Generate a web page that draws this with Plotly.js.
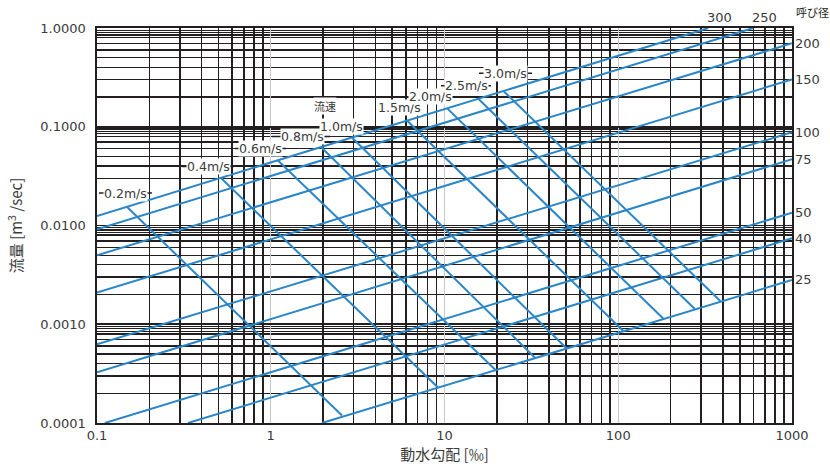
<!DOCTYPE html>
<html><head><meta charset="utf-8">
<script src="https://cdn.plot.ly/plotly-3.0.1.min.js"></script>
<style>html,body{margin:0;padding:0;background:#fff}#chart{width:830px;height:468px}</style>
</head><body><div id="chart"></div>
<script>
// Pipe (nominal diameter) lines: visible start / end points
const pipeNames  = ['300','250','200','150','100','75','50','40','25'];
const pipeStartX = [0.1, 0.1, 0.1, 0.1, 0.1, 0.1, 0.111, 0.334, 1.97];
const pipeStartQ = [0.0125, 0.00915, 0.00499, 0.00209, 0.000626, 0.000326, 0.0001, 0.0001, 0.0001];
const pipeEndX   = [330, 598, 1000, 1000, 1000, 1000, 1000, 1000, 1000];
const pipeEndQ   = [1.0, 1.0, 0.70, 0.302, 0.0879, 0.0468, 0.01349, 0.00742, 0.00281];

// Velocity lines: from the 300 line down to the 25 line
const velNames  = ['0.2m/s','0.4m/s','0.6m/s','0.8m/s','1.0m/s','1.5m/s','2.0m/s','2.5m/s','3.0m/s'];
const velStartX = [0.149, 0.517, 1.10, 1.96, 2.95, 6.12, 10.4, 15.7, 22.0];
const velStartQ = [0.01539, 0.0303, 0.0455, 0.0617, 0.0769, 0.1143, 0.1527, 0.191, 0.2275];
const velEndX   = [2.57, 9.24, 19.8, 33.4, 50.5, 107, 182, 276, 388];
const velEndQ   = [0.000119, 0.000226, 0.00034, 0.000452, 0.000568, 0.000855, 0.001136, 0.001427, 0.001708];

// Axis ticks
const xTickVals = [0.1, 1, 10, 100, 1000];
const xTickText = ['0.1', '1', '10', '100', '1000'];
const yTickVals = [0.0001, 0.001, 0.01, 0.1, 1];
const yTickText = ['0.0001', '0.0010', '0.0100', '0.1000', '1.0000'];
const xGridMult = [2, 3, 4, 5, 6, 7, 8, 9];
const yGridMult = [2, 3, 4, 5, 6, 7, 8, 8.5, 9, 9.5];

const BLUE = '#2a86c8';
const INK = '#231f20';
const TXT = '#3a3a3a';
const FONT = 'DejaVu Sans, Noto Sans CJK JP, sans-serif';
const JFONT = 'Noto Sans CJK JP, DejaVu Sans, sans-serif';

const xMinor = [];
[0.1, 1, 10, 100].forEach(d => xGridMult.forEach(m => xMinor.push(d * m)));
const yMinor = [];
[0.0001, 0.001, 0.01, 0.1].forEach(d => yGridMult.forEach(m => { if (!(d === 0.01 && m === 2)) yMinor.push(d * m); }));

const traces = [];
pipeNames.forEach((n, i) => traces.push({
  type: 'scatter', mode: 'lines', name: '呼び径 ' + n,
  x: [pipeStartX[i], pipeEndX[i]], y: [pipeStartQ[i], pipeEndQ[i]],
  line: {color: BLUE, width: 2}, showlegend: false, hoverinfo: 'name'
}));
velNames.forEach((n, i) => traces.push({
  type: 'scatter', mode: 'lines', name: n,
  x: [velStartX[i], velEndX[i]], y: [velStartQ[i], velEndQ[i]],
  line: {color: BLUE, width: 2}, showlegend: false, hoverinfo: 'name'
}));

// pixel -> paper helpers (plot area 97..792 x 28..423)
const px = v => (v - 97) / 695;
const py = v => (423 - v) / 395;

const annotations = [];
// pipe labels
pipeNames.forEach((n, i) => {
  const top = pipeEndQ[i] >= 1.0;
  annotations.push({
    xref: 'x', yref: 'y', x: Math.log10(pipeEndX[i]), y: Math.log10(pipeEndQ[i]),
    text: n, showarrow: false,
    xanchor: top ? 'center' : 'left', yanchor: top ? 'bottom' : 'middle',
    xshift: top ? 11 : 1, yshift: top ? 1 : 0,
    font: {family: FONT, size: 13, color: TXT}
  });
});
annotations.push({xref: 'paper', yref: 'paper', x: px(812), y: py(12), text: '呼び径', showarrow: false,
  xanchor: 'center', yanchor: 'middle', font: {family: JFONT, size: 11, color: '#222'}});

// velocity labels (center x, center y in px, leader left/right)
const velLabelPos = [
  [125.5, 193, 99, 152],
  [208, 166.5, 182, 234],
  [260, 148.5, 235, 286],
  [302.5, 136.5, 272, 330],
  [341.5, 126, null, null],
  [399.5, 108, null, null],
  [430.5, 96.7, 404, 456],
  [466, 85.7, 441, 491],
  [505.5, 73.3, 479, 532]
];
const shapes = [];
velNames.forEach((n, i) => {
  const p = velLabelPos[i];
  if (p[2] !== null) shapes.push({type: 'line', xref: 'paper', yref: 'paper',
    x0: px(p[2]), x1: px(p[3]), y0: py(p[1]), y1: py(p[1]), line: {color: INK, width: 1.5}, layer: 'above'});
  annotations.push({xref: 'paper', yref: 'paper', x: px(p[0]), y: py(p[1]), text: n, showarrow: false,
    xanchor: 'center', yanchor: 'middle', bgcolor: '#ffffff', borderpad: 0,
    font: {family: FONT, size: 12.5, color: TXT}});
});
annotations.push({xref: 'paper', yref: 'paper', x: px(325), y: py(106.5), text: '流速', showarrow: false,
  xanchor: 'center', yanchor: 'middle', bgcolor: '#ffffff', borderpad: 0,
  font: {family: JFONT, size: 11, color: TXT}});

const layout = {
  width: 830, height: 468,
  margin: {l: 97, r: 38, t: 28, b: 45, pad: 0},
  paper_bgcolor: '#fff', plot_bgcolor: '#fff',
  showlegend: false,
  font: {family: FONT, color: TXT},
  xaxis: {
    type: 'log', range: [-1, 3], autorange: false,
    tickmode: 'array', tickvals: xTickVals, ticktext: xTickText,
    ticks: '', tickfont: {family: FONT, size: 13, color: TXT},
    showgrid: true, gridcolor: '#c9c9c9', gridwidth: 1,
    minor: {tickmode: 'array', tickvals: xMinor, showgrid: true, gridcolor: INK, gridwidth: 1.6, ticks: ''},
    showline: true, linecolor: INK, linewidth: 1.6, mirror: true, zeroline: false,
    title: {text: '動水勾配 [‰]', font: {family: JFONT, size: 15, color: TXT}, standoff: 7},
    automargin: false
  },
  yaxis: {
    type: 'log', range: [-4, 0], autorange: false,
    tickmode: 'array', tickvals: yTickVals, ticktext: yTickText,
    ticks: '', tickfont: {family: FONT, size: 13, color: TXT}, ticklabelstandoff: 7,
    showgrid: true, gridcolor: INK, gridwidth: 1.6,
    minor: {tickmode: 'array', tickvals: yMinor, showgrid: true, gridcolor: INK, gridwidth: 1.4, ticks: ''},
    showline: true, linecolor: INK, linewidth: 1.6, mirror: true, zeroline: false,
    title: {text: '流量 [m<sup>3</sup> /sec]', font: {family: JFONT, size: 15, color: TXT}, standoff: 14},
    automargin: false
  },
  annotations: annotations,
  shapes: shapes
};

Plotly.newPlot('chart', traces, layout, {displayModeBar: false, staticPlot: true});
</script>
</body></html>
